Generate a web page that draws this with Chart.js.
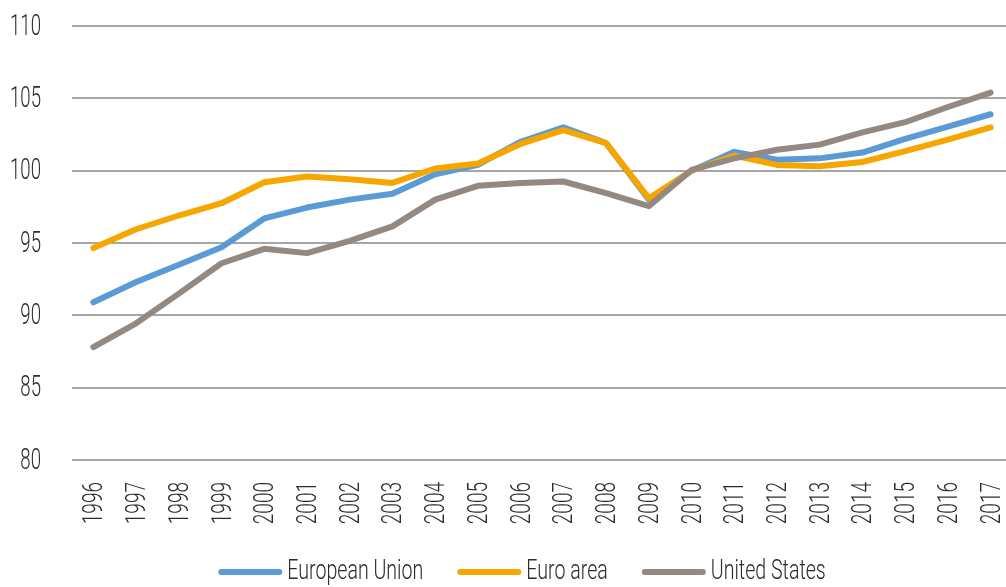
<!DOCTYPE html>
<html>
<head>
<meta charset="utf-8">
<script src="https://cdn.jsdelivr.net/npm/chart.js@4"></script>
<style>
html,body{margin:0;padding:0;background:#fff;overflow:hidden;width:1006px;height:587px;}
#wrap{position:absolute;left:0;top:0;width:1012px;height:587px;}
</style>
</head>
<body>
<div id="wrap"><canvas id="c" width="1012" height="587"></canvas></div>
<script>
const years = ["1996","1997","1998","1999","2000","2001","2002","2003","2004","2005","2006","2007","2008","2009","2010","2011","2012","2013","2014","2015","2016","2017"];
const europeanUnion = [90.9,92.3,93.5,94.7,96.7,97.45,98.0,98.4,99.75,100.4,102.0,103.0,101.9,98.0,100.0,101.3,100.75,100.85,101.25,102.2,103.05,103.9];
const euroArea = [94.65,95.95,96.9,97.75,99.2,99.6,99.4,99.15,100.15,100.5,101.85,102.8,101.9,98.1,100.0,101.05,100.4,100.3,100.6,101.35,102.15,103.0];
const unitedStates = [87.8,89.45,91.5,93.6,94.6,94.3,95.15,96.15,98.0,98.95,99.15,99.25,98.45,97.55,100.05,100.85,101.45,101.8,102.65,103.35,104.4,105.4];
const yTicks = [80,85,90,95,100,105,110];
const seriesNames = ['European Union','Euro area','United States'];
const seriesColors = ['#5b9bd5','#f7a600','#948883'];

const FAMILY = 'Roboto, "Open Sans", "DejaVu Sans", sans-serif';
const TXT = '#2b2b2b';
const GRID = '#a6a6a6';

function drawText(ctx, text, x, y, align, size, sx, rot) {
  ctx.save();
  ctx.translate(x, y);
  if (rot) ctx.rotate(rot);
  ctx.scale(sx, 1);
  ctx.font = '300 ' + size + 'px ' + FAMILY;
  ctx.fillStyle = TXT;
  ctx.textAlign = align;
  ctx.textBaseline = 'middle';
  ctx.fillText(text, 0, 0);
  ctx.restore();
}
function textW(ctx, text, size, sx) {
  ctx.save();
  ctx.font = '300 ' + size + 'px ' + FAMILY;
  const w = ctx.measureText(text).width * sx;
  ctx.restore();
  return w;
}

const labelPlugin = {
  id: 'labels',
  afterDraw(chart) {
    const ctx = chart.ctx;
    const ys = chart.scales.y, xs = chart.scales.x;
    yTicks.forEach(v => drawText(ctx, String(v), 41, ys.getPixelForValue(v) + 1, 'right', 30, 0.62));
    years.forEach((t, i) => drawText(ctx, t, xs.getPixelForValue(i) + 2, 482, 'right', 28, 0.68, -Math.PI / 2));
    // legend
    const lineLen = 58, gapLT = 8, gapItems = 37, size = 28, sx = 0.7, ly = 572;
    const widths = seriesNames.map(n => lineLen + gapLT + textW(ctx, n, size, sx));
    const total = widths.reduce((a, b) => a + b, 0) + gapItems * (seriesNames.length - 1);
    let x = 520.5 - total / 2 + 3;
    seriesNames.forEach((n, i) => {
      ctx.save();
      ctx.strokeStyle = seriesColors[i];
      ctx.lineWidth = 6;
      ctx.lineCap = 'round';
      ctx.beginPath();
      ctx.moveTo(x, ly);
      ctx.lineTo(x + lineLen, ly);
      ctx.stroke();
      ctx.restore();
      drawText(ctx, n, x + lineLen + gapLT, ly, 'left', size, sx);
      x += widths[i] + gapItems;
    });
  }
};

new Chart(document.getElementById('c'), {
  type: 'line',
  data: {
    labels: years,
    datasets: [
      {label:seriesNames[0], data:europeanUnion, borderColor:seriesColors[0], backgroundColor:seriesColors[0], order:2},
      {label:seriesNames[1], data:euroArea, borderColor:seriesColors[1], backgroundColor:seriesColors[1], order:1},
      {label:seriesNames[2], data:unitedStates, borderColor:seriesColors[2], backgroundColor:seriesColors[2], order:0}
    ]
  },
  plugins:[labelPlugin],
  options: {
    responsive:false,
    animation:false,
    devicePixelRatio:1,
    layout:{padding:{left:0,top:26,right:0,bottom:0}},
    elements:{
      line:{borderWidth:6,tension:0,borderCapStyle:'round',borderJoinStyle:'round',fill:false},
      point:{radius:0,hoverRadius:0}
    },
    plugins:{ tooltip:{enabled:false}, legend:{display:false} },
    scales:{
      x:{
        offset:true,
        grid:{display:false,drawTicks:false},
        border:{display:false},
        ticks:{display:false},
        afterFit:(s)=>{s.height=127; s.paddingLeft=0; s.paddingRight=0;}
      },
      y:{
        min:80,max:110,
        afterBuildTicks:(s)=>{s.ticks=yTicks.map(v=>({value:v}));},
        grid:{color:GRID,lineWidth:2,drawTicks:false},
        border:{display:false},
        ticks:{display:false},
        afterFit:(s)=>{s.width=72; s.paddingTop=0; s.paddingBottom=0;}
      }
    }
  }
});
</script>
</body>
</html>
